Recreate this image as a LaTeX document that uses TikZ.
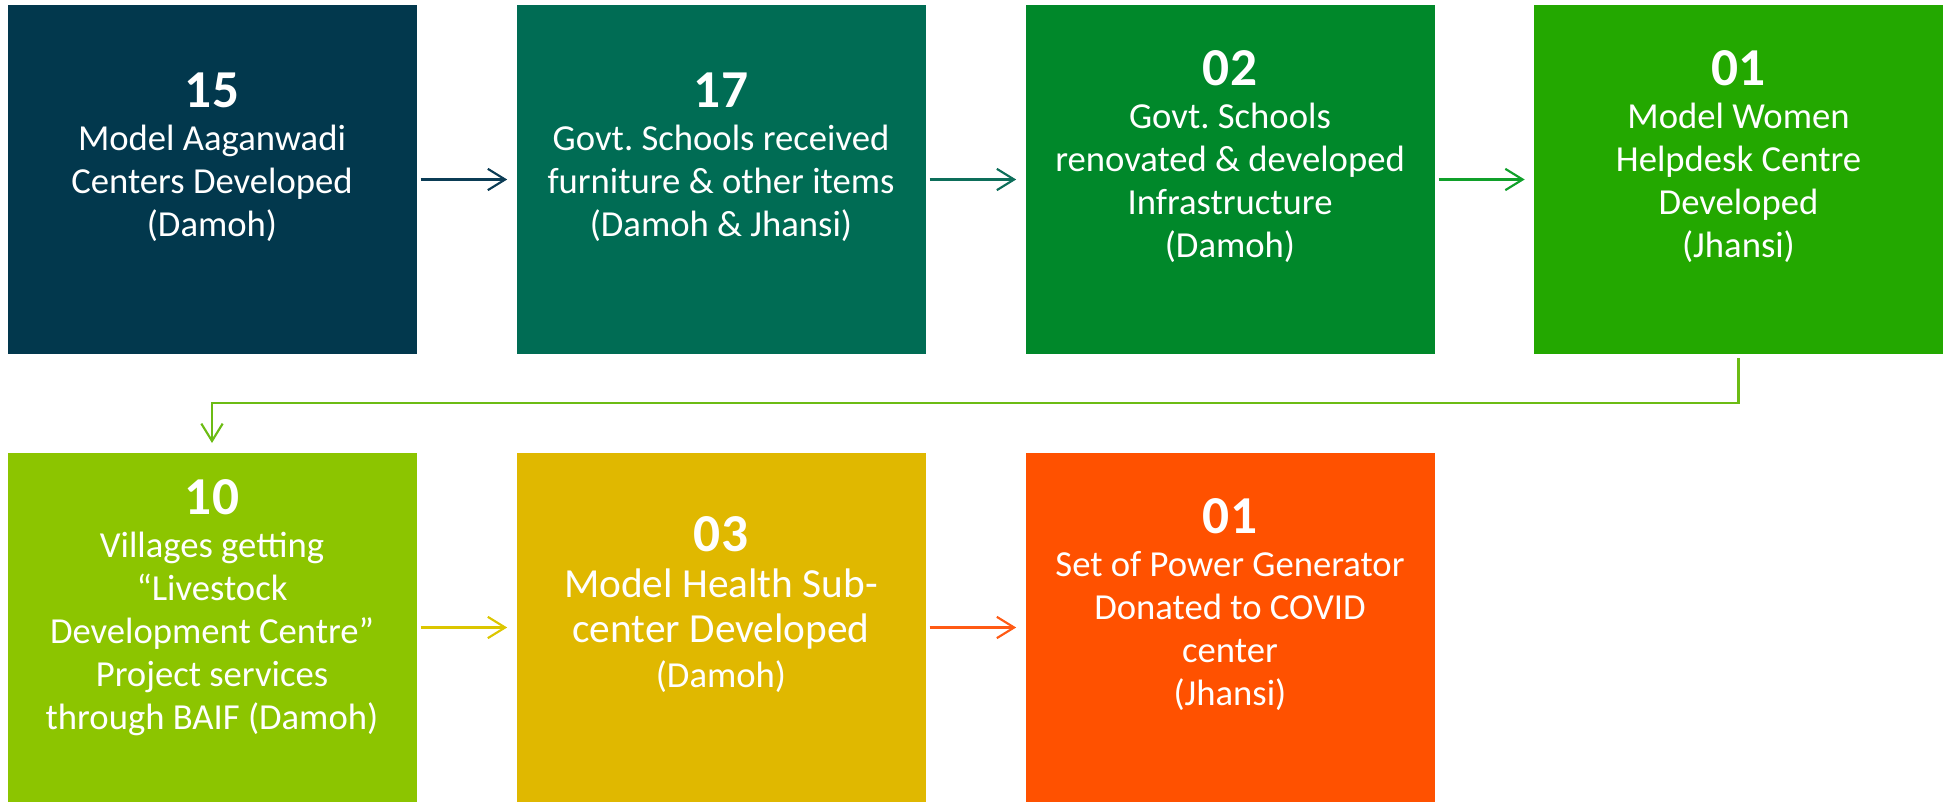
\documentclass[tikz,border=0pt]{standalone}
\usepackage{fontspec}
\setmainfont{Carlito}
\usetikzlibrary{arrows.meta}
\frenchspacing
\definecolor{c1}{HTML}{02384D}
\definecolor{c2}{HTML}{006C54}
\definecolor{c3}{HTML}{00882A}
\definecolor{c4}{HTML}{23A800}
\definecolor{c5}{HTML}{8CC500}
\definecolor{c6}{HTML}{E0B800}
\definecolor{c7}{HTML}{FF5100}
\definecolor{a1}{HTML}{0B3C55}
\definecolor{a2}{HTML}{0D6E5A}
\definecolor{a3}{HTML}{10A02A}
\definecolor{a4}{HTML}{6CBC14}
\definecolor{a5}{HTML}{DCC600}
\definecolor{a6}{HTML}{FF5A14}
\newcommand{\bignum}[1]{{\fontsize{40}{32.25}\selectfont\bfseries #1}}
\begin{document}
\begin{tikzpicture}[x=0.75pt,y=-0.75pt,
  box/.style={minimum width=306.75pt,minimum height=261.75pt,inner sep=0pt,outer sep=0pt},
  txt/.style={text=white,align=center,inner sep=0pt,font=\fontsize{27.5}{32.25}\selectfont},
  arr/.style={line width=1.6pt,-{Straight Barb[length=13pt,width=16pt]},shorten <=3pt,shorten >=7pt}]
\useasboundingbox (0,0) rectangle (1949,802);
% boxes
\node[box,fill=c1] (b1) at (212,179.5) {};
\node[box,fill=c2] (b2) at (721,179.5) {};
\node[box,fill=c3] (b3) at (1230,179.5) {};
\node[box,fill=c4] (b4) at (1738.5,179.5) {};
\node[box,fill=c5] (b5) at (212,627.5) {};
\node[box,fill=c6] (b6) at (721,627.5) {};
\node[box,fill=c7] (b7) at (1230,627.5) {};
% texts
\node[txt] (t1) at (212,157) {\bignum{15}\\Model Aaganwadi\\Centers Developed\\(Damoh)};
\node[txt] (t2) at (721,157) {\bignum{17}\\Govt. Schools received\\furniture \& other items\\(Damoh \& Jhansi)};
\node[txt] (t3) at (1230,157) {\bignum{02}\\Govt. Schools\\renovated \& developed\\Infrastructure\\(Damoh)};
\node[txt] (t4) at (1738.5,157) {\bignum{01}\\Model Women\\Helpdesk Centre\\Developed\\(Jhansi)};
\node[txt] (t5) at (212,608) {\bignum{10}\\Villages getting\\“Livestock\\Development Centre”\\Project services\\through BAIF (Damoh)};
\node[txt,font=\fontsize{31}{34}\selectfont] (t6) at (721,605) {\bignum{03}\\Model Health Sub-\\center Developed\\{\fontsize{27.5}{32.25}\selectfont(Damoh)}};
\node[txt] (t7) at (1230,605) {\bignum{01}\\Set of Power Generator\\Donated to COVID\\center\\(Jhansi)};
% connectors
\draw[arr,a1] (b1) -- (b2);
\draw[arr,a2] (b2) -- (b3);
\draw[arr,a3] (b3) -- (b4);
\draw[arr,a4,shorten >=7.5pt] (b4.south) -- ++(0,49) -| (b5.north);
\draw[arr,a5] (b5) -- (b6);
\draw[arr,a6] (b6) -- (b7);
\end{tikzpicture}
\end{document}
